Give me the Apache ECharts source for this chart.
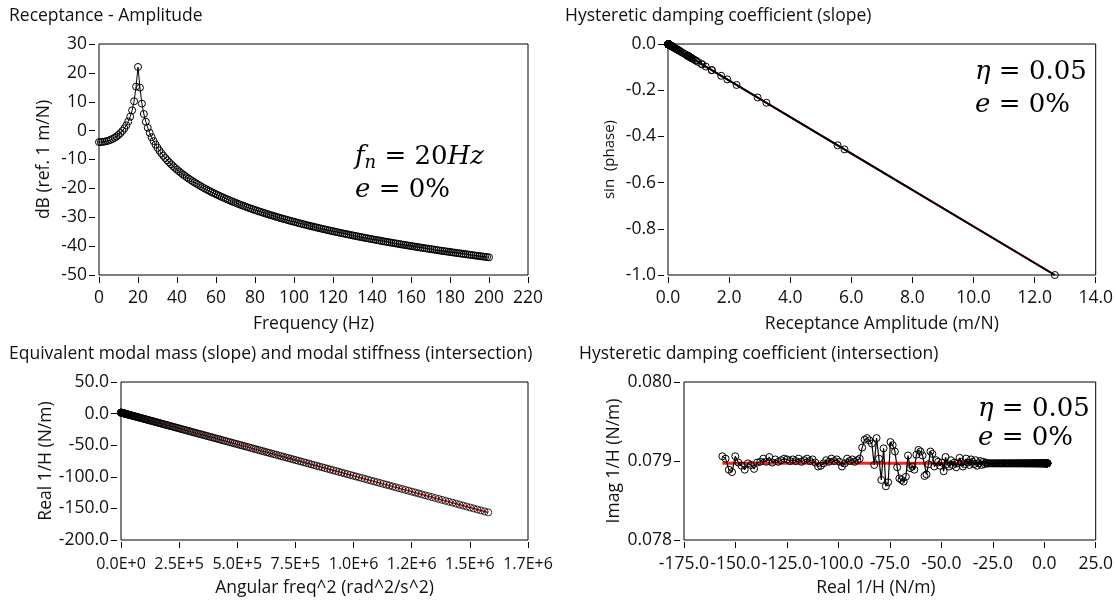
<!DOCTYPE html>
<html>
<head>
<meta charset="utf-8">
<script src="https://cdn.jsdelivr.net/npm/echarts/dist/echarts.min.js"></script>
<style>
  html, body { margin: 0; padding: 0; background: #fff; }
  #chart { width: 1116px; height: 603px; }
</style>
</head>
<body>
<div id="chart"></div>
<script>
// Frequency axis of the measured FRF (Hz)
const freqHz = [
  0,1,2,3,4,5,6,7,8,9,10,11,12,13,14,15,16,17,18,19,
  20,21,22,23,24,25,26,27,28,29,30,31,32,33,34,35,36,37,38,39,
  40,41,42,43,44,45,46,47,48,49,50,51,52,53,54,55,56,57,58,59,
  60,61,62,63,64,65,66,67,68,69,70,71,72,73,74,75,76,77,78,79,
  80,81,82,83,84,85,86,87,88,89,90,91,92,93,94,95,96,97,98,99,
  100,101,102,103,104,105,106,107,108,109,110,111,112,113,114,115,116,117,118,119,
  120,121,122,123,124,125,126,127,128,129,130,131,132,133,134,135,136,137,138,139,
  140,141,142,143,144,145,146,147,148,149,150,151,152,153,154,155,156,157,158,159,
  160,161,162,163,164,165,166,167,168,169,170,171,172,173,174,175,176,177,178,179,
  180,181,182,183,184,185,186,187,188,189,190,191,192,193,194,195,196,197,198,199,
  200
];

// Receptance amplitude in dB (ref. 1 m/N)
const ampDb = [
  -3.98,-3.96,-3.89,-3.78,-3.63,-3.42,-3.16,-2.85,-2.47,-2.02,
  -1.49,-0.86,-0.12,0.77,1.84,3.15,4.82,7.03,10.16,15.24,
  22.05,14.89,9.35,5.76,3.10,0.99,-0.77,-2.29,-3.63,-4.83,
  -5.92,-6.91,-7.84,-8.70,-9.50,-10.26,-10.98,-11.66,-12.31,-12.92,
  -13.51,-14.08,-14.63,-15.15,-15.66,-16.15,-16.62,-17.08,-17.52,-17.95,
  -18.37,-18.78,-19.18,-19.57,-19.94,-20.31,-20.67,-21.02,-21.37,-21.70,
  -22.03,-22.35,-22.67,-22.98,-23.28,-23.58,-23.87,-24.16,-24.44,-24.72,
  -24.99,-25.26,-25.52,-25.78,-26.04,-26.29,-26.54,-26.78,-27.02,-27.26,
  -27.49,-27.72,-27.95,-28.17,-28.39,-28.61,-28.83,-29.04,-29.25,-29.45,
  -29.66,-29.86,-30.06,-30.26,-30.45,-30.64,-30.83,-31.02,-31.21,-31.39,
  -31.57,-31.75,-31.93,-32.11,-32.28,-32.46,-32.63,-32.80,-32.96,-33.13,
  -33.29,-33.46,-33.62,-33.78,-33.93,-34.09,-34.25,-34.40,-34.55,-34.70,
  -34.85,-35.00,-35.15,-35.29,-35.44,-35.58,-35.72,-35.86,-36.00,-36.14,
  -36.28,-36.41,-36.55,-36.68,-36.82,-36.95,-37.08,-37.21,-37.34,-37.47,
  -37.60,-37.72,-37.85,-37.97,-38.09,-38.22,-38.34,-38.46,-38.58,-38.70,
  -38.82,-38.93,-39.05,-39.17,-39.28,-39.40,-39.51,-39.62,-39.73,-39.85,
  -39.96,-40.07,-40.18,-40.28,-40.39,-40.50,-40.61,-40.71,-40.82,-40.92,
  -41.03,-41.13,-41.23,-41.33,-41.44,-41.54,-41.64,-41.74,-41.84,-41.93,
  -42.03,-42.13,-42.23,-42.32,-42.42,-42.51,-42.61,-42.70,-42.80,-42.89,
  -42.98,-43.07,-43.17,-43.26,-43.35,-43.44,-43.53,-43.62,-43.71,-43.79,
  -43.88
];

// Receptance amplitude (m/N)
const recAmp = [
  0.632,0.634,0.639,0.647,0.659,0.674,0.695,0.720,0.752,0.792,
  0.842,0.905,0.986,1.092,1.236,1.438,1.742,2.245,3.223,5.778,
  12.663,5.552,2.933,1.940,1.430,1.121,0.915,0.768,0.659,0.574,
  0.506,0.451,0.406,0.367,0.335,0.307,0.283,0.261,0.243,0.226,
  0.211,0.1977,0.1857,0.1748,0.1649,0.1559,0.1476,0.1400,0.1330,0.1266,
  0.1206,0.1151,0.1099,0.1051,0.1007,0.0965,0.0926,0.0889,0.0854,0.0822,
  0.0791,0.0763,0.0735,0.0710,0.0685,0.0662,0.0640,0.0619,0.0600,0.0581,
  0.0563,0.0546,0.0529,0.0514,0.0499,0.0485,0.0471,0.0458,0.0446,0.0434,
  0.0422,0.0411,0.0400,0.0390,0.0380,0.0371,0.0362,0.0353,0.0345,0.0337,
  0.0329,0.0321,0.0314,0.0307,0.0300,0.0294,0.0287,0.0281,0.0275,0.0269,
  0.0264,0.0258,0.0253,0.0248,0.0243,0.0238,0.0234,0.0229,0.0225,0.0221,
  0.0216,0.0212,0.0209,0.0205,0.0201,0.0197,0.0194,0.0191,0.0187,0.0184,
  0.0181,0.0178,0.0175,0.0172,0.0169,0.0166,0.0164,0.0161,0.0158,0.0156,
  0.0153,0.0151,0.0149,0.0146,0.0144,0.0142,0.0140,0.0138,0.0136,0.0134,
  0.0132,0.0130,0.0128,0.0126,0.0125,0.0123,0.0121,0.0119,0.0118,0.0116,
  0.0115,0.0113,0.0112,0.0110,0.0109,0.0107,0.0106,0.0104,0.0103,0.0102,
  0.0101,0.0099,0.0098,0.0097,0.0096,0.0094,0.0093,0.0092,0.0091,0.0090,
  0.0089,0.0088,0.0087,0.0086,0.0085,0.0084,0.0083,0.0082,0.0081,0.0080,
  0.0079,0.0078,0.0077,0.0077,0.0076,0.0075,0.0074,0.0073,0.0072,0.0072,
  0.0071,0.0070,0.0069,0.0069,0.0068,0.0067,0.0067,0.0066,0.0065,0.0065,
  0.0064
];

// sin of the receptance phase
const sinPhase = [
  -0.0499,-0.0501,-0.0504,-0.0511,-0.0520,-0.0533,-0.0549,-0.0569,-0.0594,-0.0626,
  -0.0665,-0.0715,-0.0779,-0.0863,-0.0976,-0.1135,-0.1376,-0.1773,-0.2545,-0.4563,
  -1.0,-0.4384,-0.2316,-0.1532,-0.1129,-0.0885,-0.0723,-0.0607,-0.0520,-0.0453,
  -0.0400,-0.0356,-0.0320,-0.0290,-0.0264,-0.0242,-0.0223,-0.0206,-0.0192,-0.0178,
  -0.0167,-0.0156,-0.0147,-0.0138,-0.0130,-0.0123,-0.0117,-0.0111,-0.0105,-0.0100,
  -0.0095,-0.0091,-0.0087,-0.0083,-0.0079,-0.0076,-0.0073,-0.0070,-0.0067,-0.0065,
  -0.0063,-0.0060,-0.0058,-0.0056,-0.0054,-0.0052,-0.0051,-0.0049,-0.0047,-0.0046,
  -0.0044,-0.0043,-0.0042,-0.0041,-0.0039,-0.0038,-0.0037,-0.0036,-0.0035,-0.0034,
  -0.0033,-0.0032,-0.0032,-0.0031,-0.0030,-0.0029,-0.0029,-0.0028,-0.0027,-0.0027,
  -0.0026,-0.0025,-0.0025,-0.0024,-0.0024,-0.0023,-0.0023,-0.0022,-0.0022,-0.0021,
  -0.0021,-0.0020,-0.0020,-0.0020,-0.0019,-0.0019,-0.0018,-0.0018,-0.0018,-0.0017,
  -0.0017,-0.0017,-0.0016,-0.0016,-0.0016,-0.0016,-0.0015,-0.0015,-0.0015,-0.0015,
  -0.0014,-0.0014,-0.0014,-0.0014,-0.0013,-0.0013,-0.0013,-0.0013,-0.0013,-0.0012,
  -0.0012,-0.0012,-0.0012,-0.0012,-0.0011,-0.0011,-0.0011,-0.0011,-0.0011,-0.0011,
  -0.0010,-0.0010,-0.0010,-0.0010,-0.0010,-0.0010,-0.0010,-0.0009,-0.0009,-0.0009,
  -0.0009,-0.0009,-0.0009,-0.0009,-0.0009,-0.0008,-0.0008,-0.0008,-0.0008,-0.0008,
  -0.0008,-0.0008,-0.0008,-0.0008,-0.0008,-0.0007,-0.0007,-0.0007,-0.0007,-0.0007,
  -0.0007,-0.0007,-0.0007,-0.0007,-0.0007,-0.0007,-0.0007,-0.0006,-0.0006,-0.0006,
  -0.0006,-0.0006,-0.0006,-0.0006,-0.0006,-0.0006,-0.0006,-0.0006,-0.0006,-0.0006,
  -0.0006,-0.0006,-0.0005,-0.0005,-0.0005,-0.0005,-0.0005,-0.0005,-0.0005,-0.0005,
  -0.0005
];

// Angular frequency squared (rad^2/s^2)
const omega2 = [
  0,39,158,355,632,987,1421,1934,2527,3198,
  3948,4777,5685,6672,7738,8883,10106,11409,12791,14252,
  15791,17410,19108,20884,22740,24674,26687,28780,30951,33201,
  35531,37939,40426,42992,45637,48361,51164,54046,57007,60047,
  63165,66363,69640,72996,76430,79944,83536,87208,90958,94788,
  98696,102683,106750,110895,115119,119422,123804,128265,132805,137424,
  142122,146899,151755,156690,161704,166796,171968,177219,182548,187957,
  193444,199011,204656,210380,216184,222066,228027,234067,240187,246385,
  252662,259018,265453,271967,278560,285231,291982,298812,305721,312708,
  319775,326921,334145,341449,348831,356293,363833,371452,379151,386928,
  394784,402719,410733,418826,426998,435249,443579,451988,460476,469043,
  477689,486413,495217,504100,513061,522102,531221,540420,549697,559054,
  568489,578003,587597,597269,607020,616850,626759,636747,646814,656960,
  667185,677489,687872,698333,708874,719494,730193,740970,751827,762762,
  773777,784870,796042,807294,818624,830033,841522,853089,864735,876460,
  888264,900147,912109,924150,936270,948469,960746,973103,985539,998054,
  1010647,1023320,1036071,1048902,1061811,1074799,1087867,1101013,1114238,1127543,
  1140926,1154388,1167929,1181549,1195248,1209026,1222883,1236819,1250834,1264927,
  1279100,1293352,1307683,1322092,1336581,1351148,1365795,1380520,1395325,1410208,
  1425170,1440212,1455332,1470531,1485809,1501166,1516602,1532117,1547711,1563384,
  1579136
];

// Real part of the inverse receptance (N/m)
const realInv = [
  1.58,1.58,1.56,1.54,1.52,1.48,1.44,1.39,1.33,1.26,
  1.18,1.10,1.01,0.91,0.81,0.69,0.57,0.44,0.30,0.15,
  0,-0.16,-0.33,-0.51,-0.69,-0.89,-1.09,-1.30,-1.52,-1.74,
  -1.97,-2.22,-2.46,-2.72,-2.99,-3.26,-3.54,-3.83,-4.12,-4.43,
  -4.74,-5.06,-5.39,-5.72,-6.06,-6.42,-6.78,-7.14,-7.52,-7.90,
  -8.29,-8.69,-9.10,-9.51,-9.93,-10.36,-10.80,-11.25,-11.70,-12.17,
  -12.64,-13.11,-13.60,-14.09,-14.59,-15.10,-15.62,-16.15,-16.68,-17.22,
  -17.77,-18.33,-18.89,-19.46,-20.04,-20.63,-21.23,-21.83,-22.44,-23.06,
  -23.69,-24.33,-24.97,-25.62,-26.28,-26.95,-27.62,-28.31,-29.00,-29.70,
  -30.40,-31.12,-31.84,-32.57,-33.31,-34.06,-34.81,-35.57,-36.34,-37.12,
  -37.91,-38.70,-39.50,-40.31,-41.13,-41.95,-42.79,-43.63,-44.48,-45.33,
  -46.20,-47.07,-47.95,-48.84,-49.74,-50.64,-51.55,-52.47,-53.40,-54.34,
  -55.28,-56.23,-57.19,-58.16,-59.13,-60.12,-61.11,-62.11,-63.11,-64.13,
  -65.15,-66.18,-67.22,-68.27,-69.32,-70.38,-71.45,-72.53,-73.62,-74.71,
  -75.81,-76.92,-78.04,-79.16,-80.30,-81.44,-82.59,-83.74,-84.91,-86.08,
  -87.26,-88.45,-89.65,-90.85,-92.06,-93.28,-94.51,-95.75,-96.99,-98.24,
  -99.50,-100.77,-102.05,-103.33,-104.62,-105.92,-107.23,-108.54,-109.86,-111.19,
  -112.53,-113.88,-115.23,-116.60,-117.97,-119.34,-120.73,-122.12,-123.52,-124.93,
  -126.35,-127.78,-129.21,-130.65,-132.10,-133.56,-135.02,-136.50,-137.98,-139.47,
  -140.96,-142.47,-143.98,-145.50,-147.03,-148.56,-150.11,-151.66,-153.22,-154.79,
  -156.36
];

// Imaginary part of the inverse receptance (N/m)
const imagInv = [
  0.07897,0.07897,0.07897,0.07897,0.07897,0.07897,0.07897,0.07897,0.07897,0.07897,
  0.07897,0.07897,0.07897,0.07897,0.07897,0.07897,0.07897,0.07897,0.07897,0.07897,
  0.07897,0.07897,0.07897,0.07897,0.07897,0.07897,0.07897,0.07897,0.07897,0.07897,
  0.07897,0.07897,0.07897,0.07897,0.07897,0.07897,0.07897,0.07897,0.07897,0.07897,
  0.07897,0.07897,0.07897,0.07897,0.07897,0.07897,0.07897,0.07897,0.07897,0.07897,
  0.07897,0.07897,0.07897,0.07897,0.07897,0.07897,0.07897,0.07897,0.07897,0.07897,
  0.07897,0.07897,0.07897,0.07897,0.07897,0.07897,0.07897,0.07897,0.07897,0.07897,
  0.07897,0.07897,0.07897,0.07897,0.07897,0.07897,0.07897,0.07897,0.07897,0.07897,
  0.07897,0.07897,0.07897,0.07897,0.07897,0.07897,0.07897,0.07898,0.07896,0.07899,
  0.07895,0.07900,0.07897,0.07894,0.07901,0.07896,0.07899,0.07902,0.07895,0.07898,
  0.07903,0.07896,0.07893,0.07899,0.07904,0.07897,0.07892,0.07898,0.07895,0.07901,
  0.07893,0.07896,0.07905,0.07887,0.07898,0.07894,0.07899,0.07901,0.07893,0.07909,
  0.07912,0.07896,0.07883,0.07881,0.07907,0.07912,0.07914,0.07908,0.07889,0.07893,
  0.07891,0.07907,0.07880,0.07874,0.07876,0.07878,0.07892,0.07912,0.07920,0.07924,
  0.07873,0.07868,0.07916,0.07876,0.07903,0.07929,0.07895,0.07922,0.07926,0.07929,
  0.07927,0.07917,0.07903,0.07901,0.07899,0.07902,0.07900,0.07903,0.07897,0.07893,
  0.07899,0.07902,0.07900,0.07903,0.07899,0.07901,0.07897,0.07894,0.07893,0.07898,
  0.07902,0.07900,0.07903,0.07901,0.07899,0.07903,0.07900,0.07902,0.07900,0.07902,
  0.07903,0.07901,0.07899,0.07902,0.07898,0.07905,0.07899,0.07903,0.07899,0.07898,
  0.07890,0.07895,0.07897,0.07889,0.07894,0.07898,0.07906,0.07886,0.07889,0.07903,
  0.07906
];

// Straight-line fits (end points)
const slopeFitX = [0, 12.66];
const slopeFitY = [0, -1.0];
const massFitX = [0, 1579136];
const massFitY = [1.58, -156.36];
const dampFitX = [-156.36, 1.58];
const dampFitY = [0.07897, 0.07897];

// Tick labels of the angular-frequency axis
const omegaTickLabels = ['0.0E+0','2.5E+5','5.0E+5','7.5E+5','1.0E+6','1.2E+6','1.5E+6','1.7E+6'];

const zip = (xs, ys) => xs.map((x, i) => [x, ys[i]]);

const FONT = '"Open Sans", "Noto Sans", sans-serif';
const INK = '#111';
const FS = 17.5;

function xAxisDef(idx, min, max, step, name, fmt, margin, nameGap, labelSize, namePad) {
  return {
    type: 'value', gridIndex: idx, min: min, max: max, interval: step,
    offset: 2,
    axisLine: { show: false, onZero: false },
    axisTick: { show: true, length: 6, lineStyle: { color: '#000', width: 1 } },
    axisLabel: { color: INK, fontSize: labelSize, fontFamily: FONT, margin: margin, formatter: fmt },
    splitLine: { show: false },
    name: name, nameLocation: 'middle', nameGap: nameGap,
    nameTextStyle: { color: INK, fontSize: FS, fontFamily: FONT, padding: namePad || 0 }
  };
}
function yAxisDef(idx, min, max, step, name, fmt, gap, nameSize) {
  return {
    type: 'value', gridIndex: idx, min: min, max: max, interval: step,
    offset: 4,
    axisLine: { show: false, onZero: false },
    axisTick: { show: true, length: 6, lineStyle: { color: '#000', width: 1 } },
    axisLabel: { color: INK, fontSize: FS, fontFamily: FONT, margin: 8, formatter: fmt },
    splitLine: { show: false },
    name: name, nameLocation: 'middle', nameGap: gap,
    nameTextStyle: { color: INK, fontSize: nameSize, fontFamily: FONT }
  };
}

const hollow = { color: 'rgba(0,0,0,0)', borderColor: '#000', borderWidth: 1 };

// Math-style annotation (italic symbols, upright numbers, optional subscript)
function mathText(left, top, rich) {
  return {
    type: 'text', left: left, top: top,
    style: {
      text: rich,
      rich: {
        i: { fontFamily: '"DejaVu Serif", serif', fontStyle: 'italic', fontSize: 26, fill: '#000' },
        r: { fontFamily: '"DejaVu Serif", serif', fontSize: 26, fill: '#000' },
        s: { fontFamily: '"DejaVu Serif", serif', fontStyle: 'italic', fontSize: 18, fill: '#000', verticalAlign: 'bottom', padding: [12, 0, 0, 0] }
      }
    }
  };
}

const titleStyle = { color: INK, fontSize: FS, fontWeight: 'normal', fontFamily: FONT };

const option = {
  animation: false,
  backgroundColor: '#fff',
  title: [
    { text: 'Receptance - Amplitude', left: 9, top: 7, textStyle: titleStyle, padding: 0 },
    { text: 'Hysteretic damping coefficient (slope)', left: 565, top: 7, textStyle: titleStyle, padding: 0 },
    { text: 'Equivalent modal mass (slope) and modal stiffness (intersection)', left: 9, top: 345, textStyle: titleStyle, padding: 0 },
    { text: 'Hysteretic damping coefficient (intersection)', left: 579, top: 345, textStyle: titleStyle, padding: 0 }
  ],
  grid: [
    { left: 99, top: 44, width: 429, height: 231, show: true, borderColor: '#000', borderWidth: 1, backgroundColor: 'transparent' },
    { left: 668, top: 44, width: 429, height: 231, show: true, borderColor: '#000', borderWidth: 1, backgroundColor: 'transparent' },
    { left: 121, top: 382, width: 407, height: 158, show: true, borderColor: '#000', borderWidth: 1, backgroundColor: 'transparent' },
    { left: 684, top: 382, width: 413, height: 158, show: true, borderColor: '#000', borderWidth: 1, backgroundColor: 'transparent' }
  ],
  xAxis: [
    xAxisDef(0, 0, 220, 20, 'Frequency (Hz)', v => String(v), 12, 38, FS),
    xAxisDef(1, 0, 14, 2, 'Receptance Amplitude (m/N)', v => v.toFixed(1), 12, 38, FS),
    xAxisDef(2, 0, 1750000, 250000, 'Angular freq^2 (rad^2/s^2)',
      v => omegaTickLabels[Math.round(v / 250000)], 14, 37, 16),
    xAxisDef(3, -175, 25, 25, 'Real 1/H (N/m)', v => v.toFixed(1), 13, 37, FS, [0, 28, 0, 0])
  ],
  yAxis: [
    yAxisDef(0, -50, 30, 10, 'dB (ref. 1 m/N)', v => String(v), 42, FS),
    yAxisDef(1, -1, 0, 0.2, 'sin  (phase)', v => v.toFixed(1), 47, 15),
    yAxisDef(2, -200, 50, 50, 'Real 1/H (N/m)', v => v.toFixed(1), 62, FS),
    yAxisDef(3, 0.078, 0.080, 0.001, 'Imag 1/H (N/m)', v => v.toFixed(3), 56, FS)
  ],
  series: [
    {
      type: 'line', xAxisIndex: 0, yAxisIndex: 0, data: zip(freqHz, ampDb),
      symbol: 'circle', symbolSize: 7, showAllSymbol: true, itemStyle: hollow,
      lineStyle: { color: '#000', width: 1 }, z: 3
    },
    {
      type: 'line', xAxisIndex: 1, yAxisIndex: 1, data: zip(slopeFitX, slopeFitY),
      showSymbol: false, lineStyle: { color: '#e00000', width: 2 }, z: 2
    },
    {
      type: 'line', xAxisIndex: 1, yAxisIndex: 1, data: zip(recAmp, sinPhase),
      symbol: 'circle', symbolSize: 7, showAllSymbol: true, itemStyle: hollow,
      lineStyle: { color: '#000', width: 2 }, z: 3
    },
    {
      type: 'line', xAxisIndex: 2, yAxisIndex: 2, data: zip(massFitX, massFitY),
      showSymbol: false, lineStyle: { color: '#e00000', width: 1.5 }, z: 2
    },
    {
      type: 'scatter', xAxisIndex: 2, yAxisIndex: 2, data: zip(omega2, realInv),
      symbol: 'circle', symbolSize: 7, itemStyle: hollow, z: 3
    },
    {
      type: 'line', xAxisIndex: 3, yAxisIndex: 3, data: zip(dampFitX, dampFitY),
      showSymbol: false, lineStyle: { color: '#ff2020', width: 3 }, z: 2
    },
    {
      type: 'line', xAxisIndex: 3, yAxisIndex: 3, data: zip(realInv, imagInv),
      symbol: 'circle', symbolSize: 7, showAllSymbol: true, itemStyle: hollow,
      lineStyle: { color: '#000', width: 1.2 }, z: 3
    }
  ],
  graphic: [
    mathText(355, 144, '{i|f}{s|n}{r| = 20}{i|Hz}'),
    mathText(355, 177, '{i|e}{r| = 0%}'),
    mathText(975, 59, '{i|η}{r| = 0.05}'),
    mathText(975, 92, '{i|e}{r| = 0%}'),
    mathText(978, 396, '{i|η}{r| = 0.05}'),
    mathText(978, 425, '{i|e}{r| = 0%}')
  ]
};

const chart = echarts.init(document.getElementById('chart'), null, { renderer: 'canvas' });
chart.setOption(option);
</script>
</body>
</html>
